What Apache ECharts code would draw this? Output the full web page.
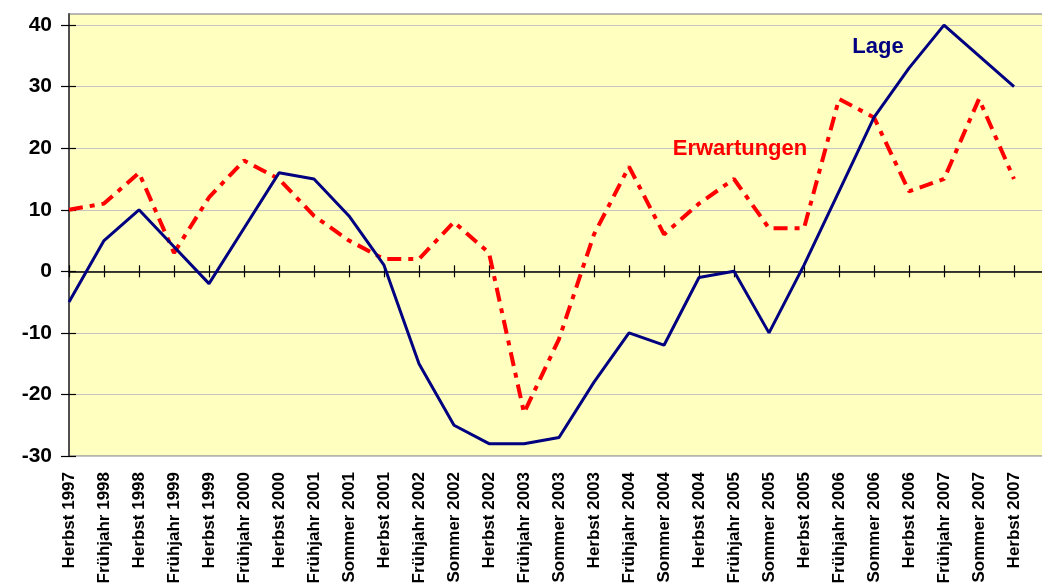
<!DOCTYPE html>
<html>
<head>
<meta charset="utf-8">
<script src="https://cdn.jsdelivr.net/npm/echarts@6/dist/echarts.min.js"></script>
<style>
	html, body { margin: 0; padding: 0; background: #fff; }
	#chart { width: 1042px; height: 583px; }
</style>
</head>
<body>
<div id="chart"></div>
<script>
// Kategorien (Umfragezeitpunkte)
var categories = [
	'Herbst 1997', 'Frühjahr 1998', 'Herbst 1998', 'Frühjahr 1999', 'Herbst 1999',
	'Frühjahr 2000', 'Herbst 2000', 'Frühjahr 2001', 'Sommer 2001', 'Herbst 2001',
	'Frühjahr 2002', 'Sommer 2002', 'Herbst 2002', 'Frühjahr 2003', 'Sommer 2003',
	'Herbst 2003', 'Frühjahr 2004', 'Sommer 2004', 'Herbst 2004', 'Frühjahr 2005',
	'Sommer 2005', 'Herbst 2005', 'Frühjahr 2006', 'Sommer 2006', 'Herbst 2006',
	'Frühjahr 2007', 'Sommer 2007', 'Herbst 2007'
];
var lage = [-5, 5, 10, 4, -2, 7, 16, 15, 9, 1, -15, -25, -28, -28, -27, -18, -10, -12, -1, 0, -10, 1, 13, 25, 33, 40, 35, 30];
var erwartungen = [10, 11, 16, 3, 12, 18, 15, 9, 5, 2, 2, 8, 3, -23, -11, 6, 17, 6, 11, 15, 7, 7, 28, 25, 13, 15, 28, 15];
var yTicks = [-30, -20, -10, 0, 10, 20, 30, 40];

var fontFamily = '"Liberation Sans", Arial, sans-serif';
var chart = echarts.init(document.getElementById('chart'));

var yBase = {
	type: 'value',
	min: -30,
	max: 41.8,
	interval: 10,
	position: 'left'
};

var xBase = {
	type: 'category',
	data: categories,
	boundaryGap: false,
	max: 28,
	position: 'bottom'
};

var option = {
	backgroundColor: '#ffffff',
	animation: false,
	grid: {
		left: 69,
		top: 14,
		width: 980,
		bottom: 127,
		outerBoundsMode: 'none',
		show: true,
		backgroundColor: '#FFFFC0',
		borderColor: '#a0a0a0',
		borderWidth: 1.5
	},
	xAxis: [
		Object.assign({}, xBase, {
			axisLine: { show: false, onZero: false },
			axisTick: { show: false },
			splitLine: { show: false },
			axisLabel: {
				interval: 0,
				rotate: 90,
				margin: 16,
				color: '#000',
				fontSize: 17,
				fontWeight: 'bold',
				fontFamily: fontFamily,
				formatter: function(v) { return v == null ? '' : v; }
			}
		}),
		// Nulllinie mit Teilstrichen nach oben
		Object.assign({}, xBase, {
			axisLine: { show: true, onZero: true, onZeroAxisIndex: 0, lineStyle: { color: '#000', width: 1.5 } },
			axisTick: { show: true, inside: true, length: 6, interval: 0, lineStyle: { color: '#000', width: 1.2 } },
			axisLabel: { show: false },
			splitLine: { show: false }
		}),
		// ... und nach unten
		Object.assign({}, xBase, {
			axisLine: { show: false, onZero: true, onZeroAxisIndex: 0 },
			axisTick: { show: true, inside: false, length: 6, interval: 0, lineStyle: { color: '#000', width: 1.2 } },
			axisLabel: { show: false },
			splitLine: { show: false }
		})
	],
	yAxis: [
		Object.assign({}, yBase, {
			axisLine: { show: true, onZero: false, lineStyle: { color: '#505050', width: 2 } },
			axisTick: { show: true, inside: false, length: 8, customValues: yTicks, lineStyle: { color: '#000', width: 1.2 } },
			axisLabel: {
				customValues: yTicks,
				margin: 17,
				color: '#000',
				fontSize: 21,
				fontWeight: 'bold',
				fontFamily: fontFamily
			},
			splitLine: { show: true, lineStyle: { color: '#c4c4c4', width: 1.2 } }
		}),
		Object.assign({}, yBase, {
			axisLine: { show: false, onZero: false },
			axisTick: { show: true, inside: true, length: 7, customValues: yTicks, lineStyle: { color: '#000', width: 1.2 } },
			axisLabel: { show: false },
			splitLine: { show: false }
		})
	],
	series: [
		{
			name: 'Erwartungen',
			type: 'line',
			data: erwartungen,
			symbol: 'none',
			z: 3,
			lineStyle: { color: '#FF0000', width: 4, type: [14, 7, 5, 7], cap: 'butt' },
			markPoint: {
				symbol: 'circle',
				symbolSize: 0,
				data: [{ coord: ['Frühjahr 2005', 19.8], value: 'Erwartungen' }],
				label: {
					show: true,
					position: 'inside',
					offset: [6, 0],
					formatter: 'Erwartungen',
					color: '#FF0000',
					fontSize: 22,
					fontWeight: 'bold',
					fontFamily: fontFamily
				}
			}
		},
		{
			name: 'Lage',
			type: 'line',
			data: lage,
			symbol: 'none',
			z: 4,
			lineStyle: { color: '#000080', width: 3 },
			markPoint: {
				symbol: 'circle',
				symbolSize: 0,
				data: [{ coord: ['Sommer 2006', 36.4], value: 'Lage' }],
				label: {
					show: true,
					position: 'inside',
					offset: [4, 0],
					formatter: 'Lage',
					color: '#000080',
					fontSize: 22,
					fontWeight: 'bold',
					fontFamily: fontFamily
				}
			}
		}
	]
};
chart.setOption(option);
</script>
</body>
</html>
